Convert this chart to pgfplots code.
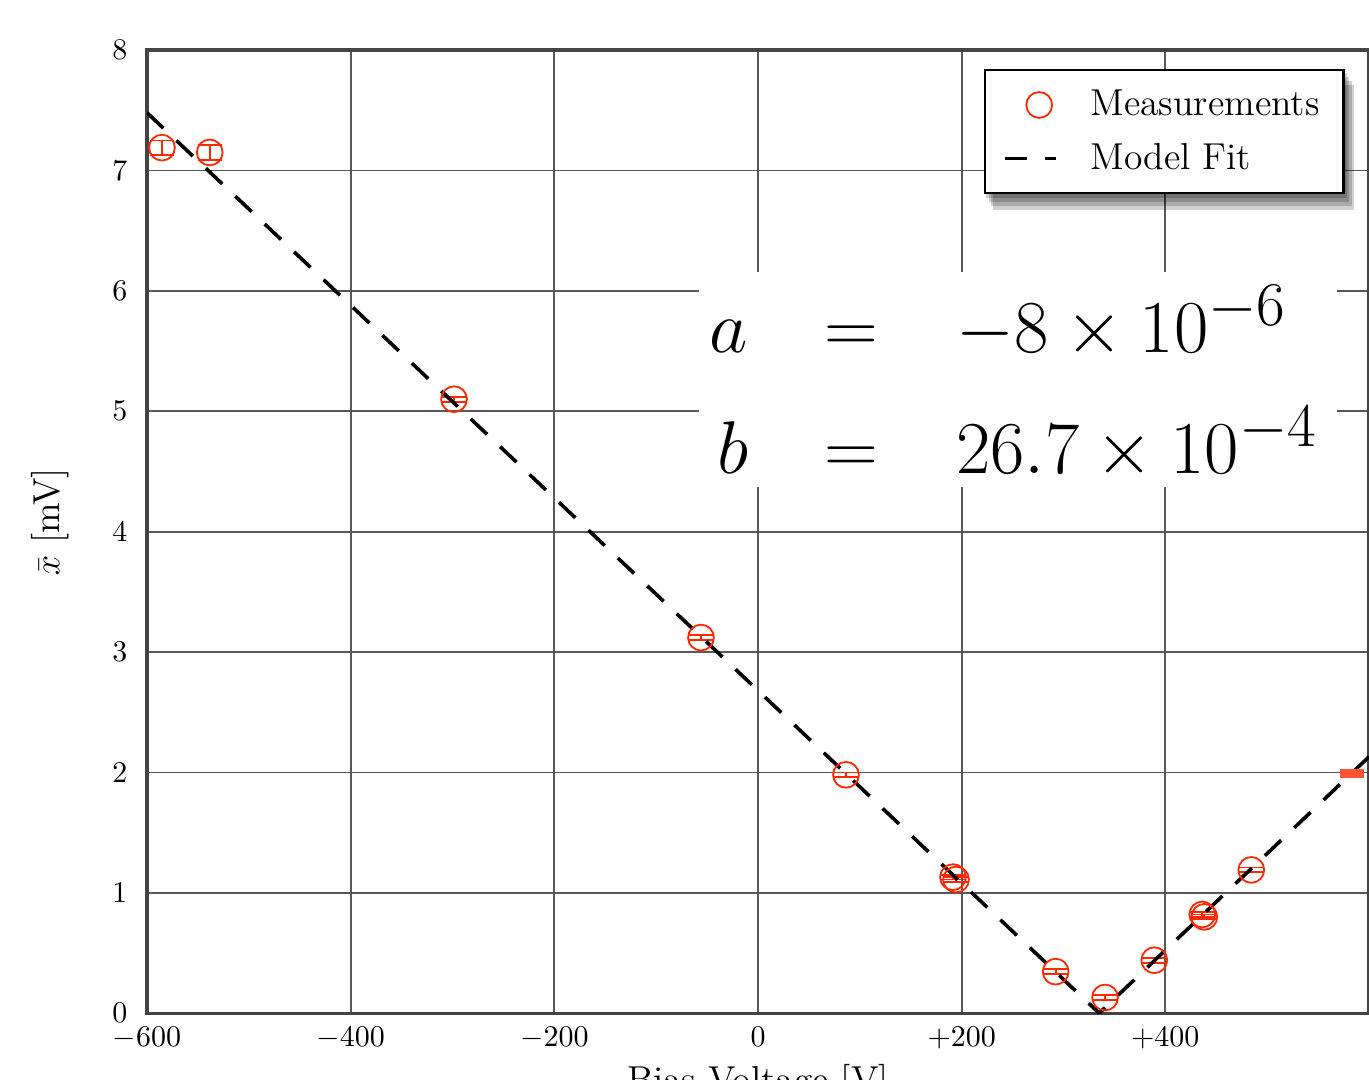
\documentclass[border=0pt]{standalone}
\usepackage{pgfplots}
\pgfplotsset{compat=1.18}
\definecolor{measred}{RGB}{255,40,0}
\definecolor{gridgray}{RGB}{88,88,88}
\definecolor{framegray}{RGB}{68,68,68}

\begin{document}
\begin{tikzpicture}
\begin{axis}[
  scale only axis, width=407.3pt, height=321pt,
  xmin=-600, xmax=600, ymin=0, ymax=8,
  xtick={-600,-400,-200,0,200,400},
  xticklabels={$-600$,$-400$,$-200$,$0$,$+200$,$+400$},
  ytick={0,1,2,3,4,5,6,7,8},
  major tick length=0pt,
  grid=major, grid style={line width=0.6pt, gridgray},
  axis line style={line width=1.1pt, framegray},
  tick label style={font=\fontsize{9.8}{12}\selectfont},
  xticklabel style={yshift=-1pt},
  yticklabel style={xshift=-3pt},
  xlabel={Bias Voltage [V]}, ylabel={$\bar{x}$ [mV]},
  label style={font=\fontsize{12.5}{15}\selectfont},
  xlabel style={at={(axis description cs:0.5,0)}, anchor=base, yshift=-26.3pt},
  ylabel style={at={(axis description cs:-0.0794,0.51)}, anchor=center},
  legend style={name=leg, at={(0.98,0.98)}, anchor=north east,
    font=\fontsize{12.5}{15}\selectfont, draw=black, line width=0.7pt, fill=white,
    inner xsep=6pt, inner ysep=4.5pt, row sep=3.7pt,
    /tikz/every odd column/.append style={column sep=9pt}},
  legend cell align=left,
]
% measurements with error bars
\addplot[only marks, mark=o, mark size=4.3pt, measred, line width=0.6pt,
  legend image post style={xshift=3pt},
  error bars/.cd, y dir=both, y explicit,
  error bar style={line width=0.6pt, measred},
  error mark options={rotate=90, mark size=4pt, line width=0.6pt, measred}]
  coordinates {
  (-585.3,7.19) +- (0,0.06)
  (-538.4,7.15) +- (0,0.065)
  (-298.5,5.10) +- (0,0.02)
  (-56.0,3.12) +- (0,0.02)
  (86.4,1.98) +- (0,0.02)
  (191.5,1.13) +- (0,0.02)
  (194.5,1.11) +- (0,0.02)
  (292.3,0.345) +- (0,0.02)
  (340.8,0.13) +- (0,0.02)
  (389.2,0.44) +- (0,0.02)
  (436.3,0.82) +- (0,0.02)
  (438.3,0.80) +- (0,0.02)
  (484.4,1.19) +- (0,0.02)
  };
\addlegendentry{Measurements}
% model fit
\addplot[black, line width=1.2pt, dash pattern=on 7.5pt off 6pt]
  coordinates {(-600,7.48) (335,0) (600,2.13)};
\addlegendentry{Model Fit}
% point at the right edge
\addplot[forget plot, only marks, mark=-, mark size=4pt, measred!80, line width=3pt]
  coordinates {(583.3,1.99)};
% fitted parameters
\node[fill=white, inner sep=0pt, minimum width=212.7pt, minimum height=71.7pt]
  at (axis cs:255.3,5.263) {};
\node[inner sep=0pt, yshift=-4.5pt, font=\Huge]
  at (axis cs:251,5.263)
  {$\begin{array}{r@{\hspace{1.02em}}c@{\hspace{1.05em}}l}
    a & = & -8\times10^{-6}\\[8.8pt]
    b & = & 26.7\times10^{-4}
  \end{array}$};
\end{axis}
% soft shadow of the legend box
\foreach \k in {1,2,3,4} {
  \fill[black, opacity=0.18]
    ([yshift=-1.3pt*\k]leg.north east) rectangle ([xshift=0.8pt*\k, yshift=-1.3pt*\k]leg.south east);
  \fill[black, opacity=0.18]
    ([xshift=0.8pt*\k]leg.south west) rectangle ([yshift=-1.3pt*\k]leg.south east);
}
\pgfresetboundingbox
\useasboundingbox (-49pt,-22pt) rectangle (407.3pt,337.7pt);
\end{tikzpicture}
\end{document}
